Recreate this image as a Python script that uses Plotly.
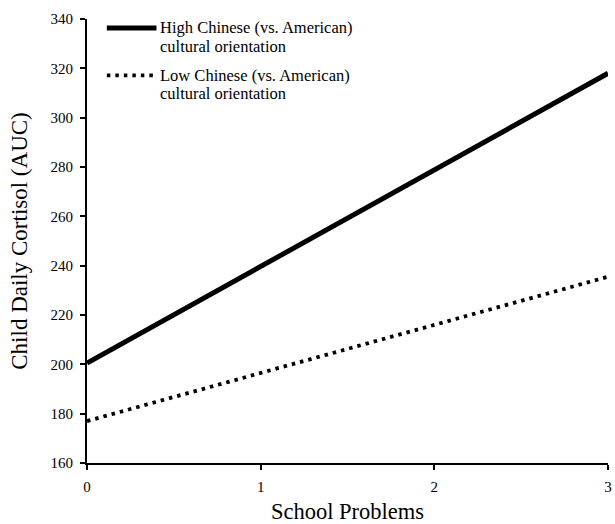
import plotly.graph_objects as go

school_problems = [0, 3]
high_chinese = [200.5, 318.0]
low_chinese = [177.0, 235.5]
legend_lines = [["High Chinese (vs. American)", "cultural orientation"],
                ["Low Chinese (vs. American)", "cultural orientation"]]
x_ticks = [0, 1, 2, 3]
y_ticks = [160, 180, 200, 220, 240, 260, 280, 300, 320, 340]

font_family = "Liberation Serif, Times New Roman, serif"

W, H = 615, 524
L, R, T, B = 87, 3, 19, 56
pw, ph = W - L - R, H - T - B


def px_x(p):
    return (p - L) / pw


def px_y(p):
    return (H - B - p) / ph


high_style = dict(color="black", width=5)
low_style = dict(color="black", width=3.8, dash="3.5px,5px")

fig = go.Figure()
fig.add_trace(go.Scatter(x=school_problems, y=high_chinese, mode="lines",
                         name=" ".join(legend_lines[0]), line=high_style))
fig.add_trace(go.Scatter(x=school_problems, y=low_chinese, mode="lines",
                         name=" ".join(legend_lines[1]), line=low_style))

# custom legend (swatches + text)
swatch_y = [28, 76]
text_y = [[28, 47], [76, 94]]
styles = [high_style, low_style]
for i in range(2):
    fig.add_shape(type="line", xref="paper", yref="paper",
                  x0=px_x(107), x1=px_x(157), y0=px_y(swatch_y[i]), y1=px_y(swatch_y[i]),
                  line=styles[i])
    for j in range(2):
        fig.add_annotation(xref="paper", yref="paper", x=px_x(159), y=px_y(text_y[i][j]),
                           xanchor="left", yanchor="middle", showarrow=False,
                           text=legend_lines[i][j], font=dict(size=16.5))

fig.update_layout(
    width=W, height=H,
    margin=dict(l=L, r=R, t=T, b=B),
    plot_bgcolor="white", paper_bgcolor="white",
    font=dict(family=font_family, color="black", size=15),
    showlegend=False,
    xaxis=dict(range=[0, 3], tickvals=x_ticks, showgrid=False,
               zeroline=False, showline=True, linecolor="black", linewidth=2,
               ticks="outside", ticklen=5, tickwidth=2, tickcolor="black",
               tickfont=dict(size=15), ticklabelstandoff=4, ticklabeloverflow="allow",
               title=dict(text="School Problems", font=dict(size=22.5), standoff=10)),
    yaxis=dict(range=[160, 340], tickvals=y_ticks, showgrid=False,
               zeroline=False, showline=True, linecolor="black", linewidth=2,
               ticks="outside", ticklen=5, tickwidth=2, tickcolor="black",
               tickfont=dict(size=15), ticklabelstandoff=4, ticklabeloverflow="allow",
               title=dict(text="Child Daily Cortisol (AUC)", font=dict(size=23), standoff=16)),
)

fig.write_html("out.html", config={"displayModeBar": False},
               post_script="document.body.style.margin='0';")
